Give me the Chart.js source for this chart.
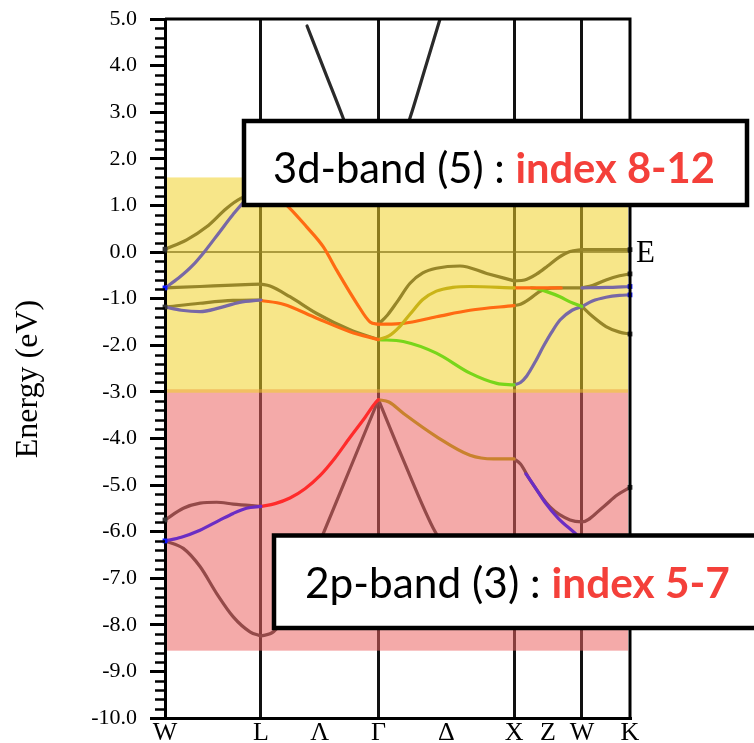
<!DOCTYPE html>
<html><head><meta charset="utf-8">
<script src="https://cdn.jsdelivr.net/npm/chart.js@4.4.1/dist/chart.umd.min.js"></script>
<style>html,body{margin:0;padding:0;background:#fff;} #wrap{width:754px;height:743px;position:relative;}</style>
</head><body><div id="wrap"><canvas id="c"></canvas></div>
<script>
// ---- k-path (distances in 2π/a) and labels
const kTicks  = [0, 0.707, 1.140, 1.573, 2.073, 2.573, 2.823, 3.073, 3.427];
const kLabels = ['W','L','Λ','Γ','Δ','X','Z','W','K'];
const kLines  = [0.707, 1.573, 2.573, 3.073];
const yMin = -10, yMax = 5;
const fermi = [[0,0],[3.427,0]];
// shaded energy windows: [k0, k1, Etop, Ebottom]
const shade3d = [0.015, 3.412, 1.6, -3.02];
const shade2p = [0.015, 3.412, -2.945, -8.555];

// ---- upper (s-like) band
const sBandL = [[1.047,4.85],[1.18,3.86],[1.312,2.88],[1.45,1.8],[1.573,1.12]];
const sBandR = [[1.573,1.12],[1.68,1.8],[1.806,2.88],[1.92,3.97],[2.027,5.0],[2.06,5.32]];

// ---- 3d bands
const dWL1 = [[0,0.06],[0.16,0.26],[0.307,0.54],[0.455,0.94],[0.558,1.15],[0.707,1.3]];
const dWL2 = [[0,-0.77],[0.1,-0.56],[0.2,-0.3],[0.3,0.04],[0.4,0.42],[0.5,0.8],[0.6,1.12],[0.707,1.3]];
const dWL3 = [[0,-0.77],[0.258,-0.74],[0.5,-0.71],[0.707,-0.69]];
const dWL4 = [[0,-1.18],[0.258,-1.1],[0.5,-1.04],[0.707,-1.03]];
const dWL5 = [[0,-1.18],[0.12,-1.25],[0.258,-1.28],[0.4,-1.2],[0.55,-1.08],[0.707,-1.03]];
const dLG1 = [[0.707,1.3],[0.8,1.24],[0.909,0.97],[1.044,0.54],[1.167,0.11],[1.265,-0.39],[1.413,-1.1],[1.511,-1.5],[1.573,-1.55]];
const dLG2 = [[0.707,-0.69],[0.774,-0.73],[0.921,-0.96],[1.118,-1.32],[1.363,-1.67],[1.573,-1.88]];
const dLG3 = [[0.707,-1.04],[0.872,-1.12],[1.118,-1.42],[1.363,-1.71],[1.573,-1.88]];
const dGX1 = [[1.573,-1.55],[1.64,-1.35],[1.708,-1.08],[1.806,-0.67],[1.9,-0.45],[2.0,-0.35],[2.174,-0.3],[2.371,-0.46],[2.573,-0.62]];
const dGX2 = [[1.573,-1.88],[1.65,-1.8],[1.73,-1.6],[1.81,-1.32],[1.9,-1.02],[2.0,-0.84],[2.12,-0.76],[2.248,-0.74],[2.573,-0.77]];
const dGX3 = [[1.573,-1.55],[1.756,-1.53],[2.0,-1.39],[2.248,-1.25],[2.573,-1.15]];
const dGX4 = [[1.573,-1.88],[1.756,-1.92],[2.0,-2.17],[2.248,-2.6],[2.445,-2.82],[2.573,-2.85]];
const dXW1 = [[2.573,-0.62],[2.65,-0.6],[2.74,-0.47],[2.82,-0.3],[2.9,-0.12],[2.985,0.01],[3.073,0.05]];
const dXW2 = [[2.573,-0.77],[2.75,-0.77],[2.92,-0.77]];
const dXW2b= [[2.70,-0.77],[2.74,-0.79],[2.813,-0.85],[2.911,-0.96],[2.985,-1.07],[3.073,-1.17]];
const dXW3 = [[2.573,-1.15],[2.62,-1.12],[2.69,-1.0],[2.76,-0.85],[2.83,-0.78],[2.92,-0.77],[3.073,-0.77]];
const dXW4 = [[2.573,-2.85],[2.62,-2.8],[2.666,-2.66],[2.73,-2.35],[2.788,-2.03],[2.85,-1.72],[2.911,-1.46],[3.0,-1.25],[3.073,-1.17]];
const dWK1 = [[3.073,0.05],[3.25,0.05],[3.427,0.05]];
const dWK2 = [[3.073,-0.77],[3.15,-0.72],[3.25,-0.6],[3.35,-0.51],[3.427,-0.47]];
const dWK3 = [[3.073,-0.77],[3.25,-0.76],[3.427,-0.74]];
const dWK4 = [[3.073,-1.17],[3.15,-1.05],[3.25,-0.97],[3.35,-0.93],[3.427,-0.92]];
const dWK5 = [[3.073,-1.17],[3.15,-1.38],[3.25,-1.6],[3.35,-1.72],[3.427,-1.76]];

// ---- 2p bands
const pWL1 = [[0,-5.75],[0.135,-5.5],[0.258,-5.39],[0.38,-5.37],[0.503,-5.41],[0.707,-5.46]];
const pWL2 = [[0,-6.2],[0.12,-6.12],[0.258,-5.97],[0.4,-5.76],[0.503,-5.61],[0.6,-5.5],[0.707,-5.46]];
const pWL3 = [[0,-6.2],[0.135,-6.36],[0.258,-6.75],[0.381,-7.33],[0.503,-7.83],[0.626,-8.15],[0.707,-8.24]];
const pLG1 = [[0.707,-5.46],[0.811,-5.4],[0.921,-5.28],[1.032,-5.08],[1.142,-4.8],[1.253,-4.42],[1.363,-3.98],[1.474,-3.55],[1.555,-3.22],[1.573,-3.17]];
const pLG2 = [[0.707,-8.24],[0.8,-8.15],[0.95,-7.55],[1.08,-6.67],[1.167,-6.04],[1.3,-5.1],[1.45,-4.04],[1.573,-3.17]];
const pGX1 = [[1.573,-3.17],[1.65,-3.22],[1.756,-3.46],[2.0,-3.96],[2.248,-4.36],[2.42,-4.44],[2.573,-4.44]];
const pGX2 = [[1.573,-3.17],[1.756,-4.46],[1.99,-6.0],[2.2,-6.9],[2.4,-7.3],[2.573,-7.4]];
const pXW1 = [[2.573,-4.44],[2.62,-4.55],[2.69,-4.89],[2.837,-5.47],[2.985,-5.75],[3.073,-5.79],[3.23,-5.47],[3.33,-5.22],[3.427,-5.05]];
const pXW2 = [[2.66,-4.76],[2.73,-5.06],[2.8,-5.37],[2.9,-5.72],[3.02,-6.03],[3.15,-6.4],[3.3,-6.6],[3.427,-6.7]];
const pXW3 = [[2.573,-7.4],[2.8,-7.2],[3.073,-7.0],[3.25,-7.1],[3.427,-7.2]];

// ---- band end markers
const leftEnds   = [0.06,-0.77,-1.18,-5.75,-6.2];
const leftBlue   = [0,1,0,0,1];
const rightEnds  = [0.05,-0.47,-0.74,-0.92,-1.76,-5.05];
const rightBlue  = [0,0,1,1,0,0];

// ---- styles
const COLORS = {
  gray:'#2a2a2a', purpleD:'#7868a6', orange:'#ff6a12', yellow:'#cab418', green:'#78d61a',
  red:'#ff2b2b', purpleP:'#6a2dc4', brown:'#c9822e'
};
const pieces = [
  [sBandL,'gray'],[sBandR,'gray'],
  [dWL1,'gray'],[dWL3,'gray'],[dWL4,'gray'],[dLG2,'gray'],[dGX1,'gray'],[dXW1,'gray'],[dXW3,'gray'],
  [dWK1,'gray'],[dWK2,'gray'],[dWK5,'gray'],
  [pWL1,'gray'],[pWL3,'gray'],[pLG2,'gray'],[pGX2,'gray'],[pXW1,'gray'],[pXW3,'gray'],
  [dWL2,'purpleD'],[dWL5,'purpleD'],[dLG1,'orange'],[dLG3,'orange'],[dGX2,'yellow'],[dGX3,'orange'],
  [dGX4,'green'],[dXW2,'orange'],[dXW2b,'green'],[dXW4,'purpleD'],[dWK3,'purpleD'],[dWK4,'purpleD'],
  [pWL2,'purpleP'],[pLG1,'red'],[pGX1,'brown'],[pXW2,'purpleP']
];

const datasets = [{
  data: fermi.map(([x,y])=>({x,y})), borderColor:'#222', borderWidth:1.3, pointRadius:0,
  tension:0, order:2, group:'gray'
}];
pieces.forEach(([arr,key])=>{
  datasets.push({
    data: arr.map(([x,y])=>({x,y})), borderColor: COLORS[key], borderWidth: 3.2, pointRadius: 0,
    cubicInterpolationMode:'monotone', tension:0.4, fill:false, borderCapStyle:'round',
    order: key==='gray' ? 2 : 1, group: key==='gray' ? 'gray' : 'color'
  });
});
const markerPts = leftEnds.map(y=>({x:0,y})).concat(rightEnds.map(y=>({x:3.427,y})));
const markerCol = leftBlue.concat(rightBlue).map(b=> b ? '#0a14ff' : '#333');
datasets.push({data:markerPts, showLine:false, pointStyle:'rect', pointRadius:3.4, pointBorderWidth:0,
  pointBackgroundColor:markerCol, order:0, group:'marker', clip:false});

function drawShade(chart){
  const {ctx, scales:{x,y}} = chart;
  ctx.save();
  [[shade2p,'rgba(235,100,99,0.55)'],[shade3d,'rgba(240,210,40,0.55)']].forEach(([s,c])=>{
    const x0=x.getPixelForValue(s[0]), x1=x.getPixelForValue(s[1]);
    const y0=y.getPixelForValue(s[2]), y1=y.getPixelForValue(s[3]);
    ctx.fillStyle=c; ctx.fillRect(x0,y0,x1-x0,y1-y0);
  });
  ctx.restore();
}
function drawBoxLabel(ctx, box, t1, t2, textX, baseY, targetW){
  ctx.save();
  ctx.fillStyle='#fff'; ctx.strokeStyle='#000'; ctx.lineWidth=4.5;
  ctx.fillRect(box[0],box[1],box[2]-box[0],box[3]-box[1]);
  ctx.strokeRect(box[0],box[1],box[2]-box[0],box[3]-box[1]);
  let size=34;
  const f1=s=>`${s}px Lato`, f2=s=>`bold ${s}px Lato`;
  ctx.font=f1(size); const w1=ctx.measureText(t1).width;
  ctx.font=f2(size); const w2=ctx.measureText(t2).width;
  size = size*targetW/(w1+w2);
  ctx.textBaseline='alphabetic'; ctx.textAlign='left';
  ctx.font=f1(size); ctx.fillStyle='#000'; ctx.fillText(t1,textX,baseY);
  const ww=ctx.measureText(t1).width;
  ctx.font=f2(size); ctx.fillStyle='#f4403a'; ctx.fillText(t2,textX+ww,baseY);
  ctx.restore();
}
const deco = {
  id:'deco',
  beforeDatasetsDraw(chart){ chart.$ov=false; },
  beforeDatasetDraw(chart,args){
    const ds=chart.data.datasets[args.index];
    if(!chart.$ov && ds.group!=='gray'){ drawShade(chart); chart.$ov=true; }
  },
  afterDatasetsDraw(chart){ if(!chart.$ov){ drawShade(chart); chart.$ov=true; } },
  afterDraw(chart){
    const {ctx, chartArea:a, scales:{x,y}} = chart;
    ctx.save();
    // minor ticks
    ctx.strokeStyle='#000'; ctx.lineWidth=2.5;
    for(let i=0;i<=75;i++){
      if(i%5===0) continue;
      const v=yMin+i*0.2, py=Math.round(y.getPixelForValue(v))+0.5;
      ctx.beginPath(); ctx.moveTo(a.left-10,py); ctx.lineTo(a.left,py); ctx.stroke();
    }
    // top and right frame
    ctx.lineWidth=3;
    ctx.beginPath(); ctx.moveTo(a.left,a.top); ctx.lineTo(a.right+1.5,a.top);
    ctx.moveTo(a.right,a.top); ctx.lineTo(a.right,a.bottom); ctx.stroke();
    // E marker text at Fermi level
    ctx.fillStyle='#000'; ctx.font='31px "Liberation Serif"'; ctx.textAlign='left'; ctx.textBaseline='alphabetic';
    ctx.fillText('E', a.right+6, y.getPixelForValue(0)+10);
    // y title
    ctx.save(); ctx.translate(37, 379); ctx.rotate(-Math.PI/2);
    ctx.textAlign='center'; ctx.font='32px "Liberation Serif"'; ctx.fillText('Energy (eV)',0,0);
    ctx.restore();
    ctx.restore();
    drawBoxLabel(ctx,[244,121,747,205],'3d-band (5) : ','index 8-12',273,183,442);
    drawBoxLabel(ctx,[274,535.5,760,628],'2p-band (3) : ','index 5-7',305,598,425);
  }
};

new Chart(document.getElementById('c'), {
  type:'line',
  data:{datasets},
  options:{
    responsive:true, maintainAspectRatio:false, animation:false, devicePixelRatio:1,
    layout:{padding:{left:0,top:19,right:124,bottom:0}},
    plugins:{legend:{display:false}, tooltip:{enabled:false}},
    scales:{
      x:{type:'linear', min:0, max:3.427,
        afterBuildTicks(s){ s.ticks = kTicks.map(v=>({value:v})); },
        afterFit(s){ s.height = 25; s.paddingLeft = 0; s.paddingRight = 0; },
        ticks:{autoSkip:false, maxRotation:0, minRotation:0, padding:0, color:'#000',
          font:{family:'Liberation Serif', size:26}, callback:(v,i)=>kLabels[i]},
        grid:{drawOnChartArea:true, drawTicks:false, lineWidth:3,
          color:(c)=> (c.tick && kLines.some(v=>Math.abs(v-c.tick.value)<1e-6)) ? '#111' : 'rgba(0,0,0,0)'},
        border:{display:true, color:'#000', width:3}
      },
      y:{type:'linear', min:yMin, max:yMax,
        afterFit(s){ s.width = 165; s.paddingTop = 0; s.paddingBottom = 0; },
        ticks:{stepSize:1, padding:13, color:'#000', font:{family:'Liberation Serif', size:22},
          callback:v=>Number(v).toFixed(1)},
        grid:{drawOnChartArea:false, drawTicks:true, tickLength:15, tickWidth:3, tickColor:'#000'},
        border:{display:true, color:'#000', width:3}
      }
    }
  },
  plugins:[deco]
});
</script></body></html>
